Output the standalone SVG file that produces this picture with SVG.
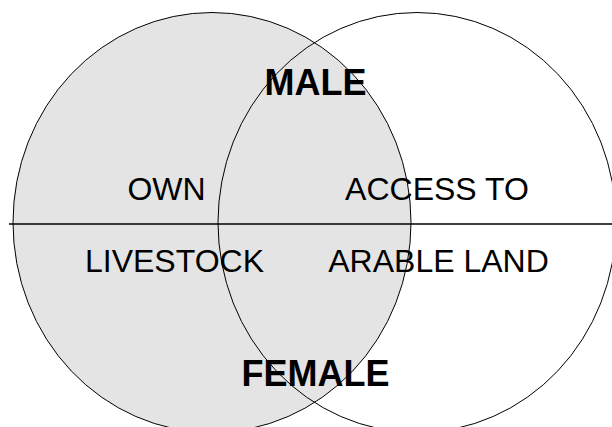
<svg xmlns="http://www.w3.org/2000/svg" width="612" height="427" viewBox="0 0 612 427">
<style>
.c{stroke:#000;stroke-width:1}
.t{font-family:"Liberation Sans",Arial,sans-serif;fill:#000;text-anchor:middle}
.r{font-size:32px}
.b{font-size:36px;font-weight:bold}
</style>
<rect width="612" height="427" fill="#fff"/>
<g id="livestock-set">
<ellipse class="c" cx="212" cy="222.5" rx="199" ry="210" fill="#e4e4e4"/>
</g>
<g id="land-set">
<ellipse class="c" cx="417" cy="222.5" rx="199" ry="210" fill="none"/>
</g>
<g id="connectors">
<line x1="9" y1="224" x2="612" y2="224" stroke="#000" stroke-width="1.3"/>
</g>
<g id="labels">
<text class="t b" x="315.5" y="95">MALE</text>
<text class="t b" x="315.5" y="386">FEMALE</text>
<text class="t r" x="166.5" y="200">OWN</text>
<text class="t r" x="174.5" y="272">LIVESTOCK</text>
<text class="t r" x="437" y="200">ACCESS TO</text>
<text class="t r" x="438.5" y="272">ARABLE LAND</text>
</g>
</svg>
